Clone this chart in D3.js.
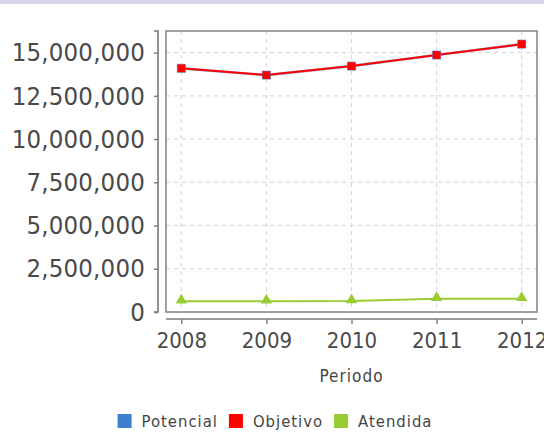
<!DOCTYPE html>
<html>
<head>
<meta charset="utf-8">
<script src="https://cdn.jsdelivr.net/npm/d3@7"></script>
<style>
html,body{margin:0;padding:0;background:#fff;}
svg{display:block;}
</style>
</head>
<body>
<script>
const years = ["2008","2009","2010","2011","2012"];
const potencial = [14090000, 13700000, 14220000, 14860000, 15490000];
const objetivo  = [14090000, 13700000, 14220000, 14860000, 15490000];
const atendida  = [620000, 620000, 630000, 760000, 770000];
const yTicks = [0, 2500000, 5000000, 7500000, 10000000, 12500000, 15000000];
const seriesNames = ["Potencial","Objetivo","Atendida"];
const seriesColors = ["#3f7fd0","#ff0000","#99cc33"];
const xTitle = "Periodo";

const W = 544, H = 436;
const plot = {left:166, right:537, top:31, bottom:312};
const font = "'DejaVu Sans Condensed','DejaVu Sans',sans-serif";

const svg = d3.select("body").append("svg").attr("width", W).attr("height", H);
svg.append("rect").attr("width", W).attr("height", H).attr("fill", "#fff");
svg.append("rect").attr("width", W).attr("height", 4).attr("fill", "#dad2e6");

const x = d3.scalePoint().domain(years).range([plot.left, plot.right]).padding(0.18);
const y = d3.scaleLinear().domain([0, 16250000]).range([plot.bottom, plot.top]);

// grid
const g = svg.append("g");
g.selectAll("line.hg").data(yTicks).join("line")
  .attr("x1", plot.left).attr("x2", plot.right)
  .attr("y1", d => y(d)).attr("y2", d => y(d))
  .attr("stroke", "#d4d4d4").attr("stroke-width", 1).attr("stroke-dasharray", "4,4");
g.selectAll("line.vg").data(years).join("line")
  .attr("y1", plot.top).attr("y2", plot.bottom)
  .attr("x1", d => x(d)).attr("x2", d => x(d))
  .attr("stroke", "#d4d4d4").attr("stroke-width", 1).attr("stroke-dasharray", "4,4");

// frame
svg.append("rect").attr("x", plot.left).attr("y", plot.top)
  .attr("width", plot.right - plot.left).attr("height", plot.bottom - plot.top)
  .attr("fill", "none").attr("stroke", "#8a8a8a").attr("stroke-width", 1.6);

// y axis
const yAxis = d3.axisLeft(y).tickValues(yTicks).tickFormat(d3.format(",")).tickSize(4).tickPadding(9);
const ya = svg.append("g").attr("transform", `translate(158,0)`).call(yAxis);
ya.select(".domain").attr("stroke", "#7a7a7a").attr("stroke-width", 1.6)
  .attr("d", `M-4,${plot.top}H0V${plot.bottom}H-4`);
ya.selectAll(".tick line").attr("stroke", "#7a7a7a").attr("stroke-width", 1.4);
ya.selectAll(".tick text").attr("font-family", font).attr("font-size", 25.5)
  .attr("letter-spacing", 0.2).attr("fill", "#4a4a4a");

// x axis
const xAxis = d3.axisBottom(x).tickSize(5).tickPadding(8);
const xa = svg.append("g").attr("transform", `translate(0,319)`).call(xAxis);
xa.select(".domain").attr("stroke", "#7a7a7a").attr("stroke-width", 1.6)
  .attr("d", `M${plot.left},0H${plot.right}`);
xa.selectAll(".tick line").attr("stroke", "#7a7a7a").attr("stroke-width", 1.4);
xa.selectAll(".tick text").attr("font-family", font).attr("font-size", 22).attr("fill", "#4a4a4a");

svg.append("text").attr("x", (plot.left + plot.right) / 2).attr("y", 382)
  .attr("text-anchor", "middle").attr("font-family", font).attr("font-size", 17)
  .attr("fill", "#444").attr("letter-spacing", 1).text(xTitle);

// series
const data = [potencial, objetivo, atendida];
const line = d3.line().x((d, i) => x(years[i])).y(d => y(d));
data.forEach((vals, si) => {
  svg.append("path").datum(vals).attr("d", line)
    .attr("fill", "none").attr("stroke", seriesColors[si])
    .attr("stroke-opacity", si === 0 ? 0.6 : 1)
    .attr("stroke-width", si === 0 ? 2.6 : 2);
});
// markers
const sq = 9;
svg.selectAll("rect.mp").data(potencial).join("rect")
  .attr("x", (d, i) => x(years[i]) - sq / 2).attr("y", d => y(d) - sq / 2)
  .attr("width", sq).attr("height", sq).attr("fill", seriesColors[0]).attr("fill-opacity", 0.7);
svg.selectAll("rect.mo").data(objetivo).join("rect")
  .attr("x", (d, i) => x(years[i]) - sq / 2 + 0.6).attr("y", d => y(d) - sq / 2 + 0.6)
  .attr("width", sq - 1.2).attr("height", sq - 1.2).attr("fill", seriesColors[1]);
const tri = d3.symbol().type(d3.symbolTriangle).size(55);
svg.selectAll("path.ma").data(atendida).join("path")
  .attr("d", tri)
  .attr("transform", (d, i) => `translate(${x(years[i])},${y(d) - 1})`)
  .attr("fill", seriesColors[2]);

// legend
const lg = svg.append("g");
let cx = 0;
seriesNames.forEach((n, i) => {
  const it = lg.append("g").attr("transform", `translate(${cx},0)`);
  it.append("rect").attr("x", 0).attr("y", -7).attr("width", 14).attr("height", 14).attr("fill", seriesColors[i]);
  const t = it.append("text").attr("x", 24).attr("y", 6).attr("font-family", font)
    .attr("font-size", 16.5).attr("letter-spacing", 1).attr("fill", "#444").text(n);
  const w = t.node().getComputedTextLength();
  cx += 24 + w + 11;
});
const total = cx - 11;
lg.attr("transform", `translate(${275 - total / 2},421)`);
</script>
</body>
</html>
